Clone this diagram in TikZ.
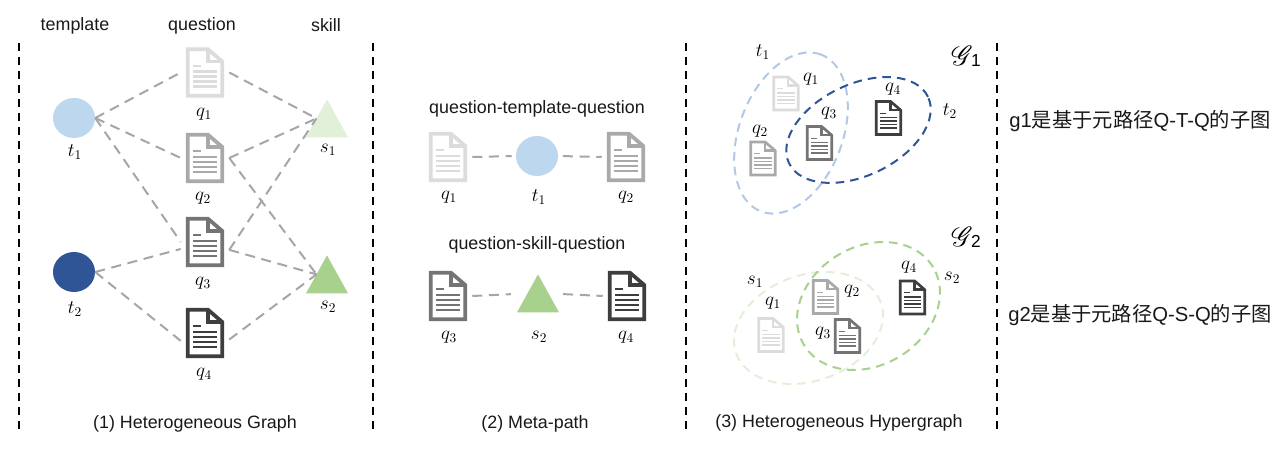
\documentclass[tikz,border=0pt]{standalone}
\usepackage{fontspec}
\usepackage{mathrsfs}
\setmainfont{Liberation Sans}
\newfontfamily\cjk{Noto Sans CJK SC}
\usetikzlibrary{shapes.geometric}
\definecolor{qa}{HTML}{DCDCDC}
\definecolor{qb}{HTML}{A9A9A9}
\definecolor{qc}{HTML}{747474}
\definecolor{qd}{HTML}{3E3E3E}
\definecolor{tl}{HTML}{BDD7EE}
\definecolor{tm}{HTML}{B4C7E7}
\definecolor{td}{HTML}{2F5597}
\definecolor{sl}{HTML}{E2F0D9}
\definecolor{sd}{HTML}{A9D18E}
\definecolor{edgegray}{HTML}{A6A6A6}
\tikzset{
  px/.style={x=0.75pt,y=-0.75pt},
  txt/.style={font=\fontsize{13.4pt}{15pt}\selectfont,inner sep=0pt,text=black!90,anchor=base},
  mth/.style={font=\fontsize{14.5pt}{16pt}\selectfont,inner sep=0pt},
  cn/.style={font=\fontsize{15.2pt}{18pt}\selectfont,inner sep=0pt,text=black!90,anchor=base},
  gsym/.style={inner sep=0pt,font=\fontsize{20pt}{22pt}\selectfont},
  divider/.style={draw=black,line width=1.9pt,dash pattern=on 6pt off 4.5pt},
  conn/.style={draw=edgegray,line width=1.5pt,dash pattern=on 7.5pt off 5pt},
  tcirc/.style={ellipse,inner sep=0pt,fill=#1,minimum width=31.5pt,minimum height=30pt},
  tri/.style={isosceles triangle,isosceles triangle stretches,shape border rotate=90,inner sep=0pt,outer sep=0pt,minimum width=31.5pt,minimum height=28.5pt,fill=#1},
  hyper/.style={ellipse,draw=#1,inner sep=0pt,line width=1.5pt,dash pattern=on 6.5pt off 4.5pt},
}
% name, x, y, colour, scale
\newcommand{\docicon}[5]{%
  \node[inner sep=0pt,minimum width=#5*36pt,minimum height=#5*37.5pt] (#1) at (#2,#3) {};
  \begin{scope}[shift={(#2,#3)},x=#5*0.75pt,y=-#5*0.75pt]
    \draw[#4,line width=#5*2.8pt,line join=miter] (-17.25,-23.25) -- (3,-23.25) -- (17.25,-11) -- (17.25,23.25) -- (-17.25,23.25) -- cycle;
    \draw[#4,line width=#5*2.6pt,line join=miter] (3,-23.25) -- (3,-11) -- (17.25,-11);
    \fill[#4] (-12,-7.7) rectangle (-4,-5.7);
    \foreach \yy in {-1,4,9,14}{\fill[#4] (-12,\yy-1.1) rectangle (12,\yy+1.1);}
  \end{scope}}
\begin{document}
\begin{tikzpicture}[px]
\useasboundingbox[fill=white] (0,0) rectangle (1286,452);

% dividers
\coordinate (da) at (19,43); \coordinate (db) at (19,430);
\coordinate (dc) at (373,43); \coordinate (dd) at (373,430);
\coordinate (de) at (686,43); \coordinate (df) at (686,430);
\coordinate (dg) at (997,43); \coordinate (dh) at (997,430);
\draw[divider] (da) -- (db);
\draw[divider] (dc) -- (dd);
\draw[divider] (de) -- (df);
\draw[divider] (dg) -- (dh);

% headers
\node[txt] (h1) at (75,31) {template};
\node[txt] (h2) at (202,31) {question};
\node[txt] (h3) at (326,32) {skill};

% panel 1 shapes
\node[tcirc=tl] (t1) at (74,118) {};
\node[tcirc=td] (t2) at (74,272) {};
\node[tri=sl] (s1) at (327,125) {};
\node[tri=sd] (s2) at (327,281) {};
\docicon{q1}{205}{72.5}{qa}{1}
\docicon{q2}{205}{158}{qb}{1}
\docicon{q3}{205}{242}{qc}{1}
\docicon{q4}{205}{333}{qd}{1}

% panel 1 connectors
\draw[conn] (t1.east) -- (q1.west);
\draw[conn] (t1.east) -- (q2.west);
\draw[conn] (t1.east) -- (q3.west);
\draw[conn] (t2.east) -- (q3.196);
\draw[conn] (t2.east) -- (q4.198);
\draw[conn] (q1.east) -- (s1.left side);
\draw[conn] (q2.east) -- (s1.left side);
\draw[conn] (q3.-18) -- (s1.left side);
\draw[conn] (q2.east) -- (s2.left side);
\draw[conn] (q3.-18) -- (s2.left side);
\draw[conn] (q4.-15) -- (s2.left side);

% panel 1 labels
\node[mth] (lq1) at (204,114) {$q_1$};
\node[mth] (lq2) at (203,198) {$q_2$};
\node[mth] (lq3) at (203,283) {$q_3$};
\node[mth] (lq4) at (204,374) {$q_4$};
\node[mth] (lt1) at (75,152) {$t_1$};
\node[mth] (lt2) at (75,309) {$t_2$};
\node[mth] (ls1) at (328,150) {$s_1$};
\node[mth] (ls2) at (328,307) {$s_2$};
\node[txt] (c1) at (195,428) {(1) Heterogeneous Graph};

% panel 2
\node[txt] (m1) at (537,114) {question-template-question};
\node[txt] (m2) at (537,250) {question-skill-question};
\docicon{pq1}{448}{157}{qa}{1}
\docicon{pq2}{626}{157}{qb}{1}
\docicon{pq3}{448}{296}{qc}{1}
\docicon{pq4}{627}{296}{qd}{1}
\node[tcirc=tl] (pt1) at (537,156) {};
\node[tri=sd] (ps2) at (538,300) {};
\draw[conn,shorten >=3pt] (pq1.east) -- (pt1.west);
\draw[conn,shorten <=3.5pt] (pt1.east) -- (pq2.west);
\draw[conn,shorten >=12.5pt] (pq3.east) -- (ps2.left side);
\draw[conn,shorten <=11pt] (ps2.right side) -- (pq4.west);
\node[mth] (lp1) at (449,197) {$q_1$};
\node[mth] (lp2) at (539,197) {$t_1$};
\node[mth] (lp3) at (626,197) {$q_2$};
\node[mth] (lp4) at (449,337) {$q_3$};
\node[mth] (lp5) at (539,337) {$s_2$};
\node[mth] (lp6) at (626,337) {$q_4$};
\node[txt] (c2) at (535,428) {(2) Meta-path};

% panel 3 upper
\node[hyper=tm,minimum width=126pt,minimum height=77.4pt,rotate=69] (e1) at (791,133) {};
\node[hyper=td,minimum width=115.5pt,minimum height=68.5pt,rotate=25.5] (e2) at (858.5,130) {};
\docicon{hq1}{786}{93.5}{qa}{0.71}
\docicon{hq2}{763}{158.5}{qb}{0.71}
\docicon{hq3}{819.5}{143}{qc}{0.71}
\docicon{hq4}{888.5}{118}{qd}{0.71}
\node[mth] (la1) at (763,52) {$t_1$};
\node[mth] (la2) at (811,79) {$q_1$};
\node[mth] (la3) at (829,113) {$q_3$};
\node[mth] (la4) at (760,131) {$q_2$};
\node[mth] (la5) at (893,89) {$q_4$};
\node[mth] (la6) at (950,111) {$t_2$};
\node[gsym] (g1) at (966,56) {$\mathscr{G}$\kern-1.5pt\raisebox{-1pt}{\fontsize{13pt}{13pt}\selectfont$\mathrm{1}$}};

% panel 3 lower
\node[hyper=sl,minimum width=115pt,minimum height=79.5pt,rotate=19] (e3) at (808.5,328) {};
\node[hyper=sd,minimum width=113pt,minimum height=89pt,rotate=31] (e4) at (868.5,306) {};
\docicon{hq5}{771}{335}{qa}{0.71}
\docicon{hq6}{825.5}{297}{qb}{0.71}
\docicon{hq7}{847.5}{336}{qc}{0.71}
\docicon{hq8}{912.5}{297.5}{qd}{0.71}
\node[mth] (lb1) at (755,282) {$s_1$};
\node[mth] (lb2) at (773,303) {$q_1$};
\node[mth] (lb3) at (852,291) {$q_2$};
\node[mth] (lb4) at (823,333) {$q_3$};
\node[mth] (lb5) at (909,267) {$q_4$};
\node[mth] (lb6) at (952,278) {$s_2$};
\node[gsym] (g2) at (966,237) {$\mathscr{G}$\kern-1.5pt\raisebox{-1pt}{\fontsize{13pt}{13pt}\selectfont$\mathrm{2}$}};
\node[txt] (c3) at (839,427) {(3) Heterogeneous Hypergraph};

% side notes
\node[cn] (n1) at (1140,128) {g1{\cjk 是基于元路径}Q-T-Q{\cjk 的子图}};
\node[cn] (n2) at (1140,322) {g2{\cjk 是基于元路径}Q-S-Q{\cjk 的子图}};
\end{tikzpicture}
\end{document}
